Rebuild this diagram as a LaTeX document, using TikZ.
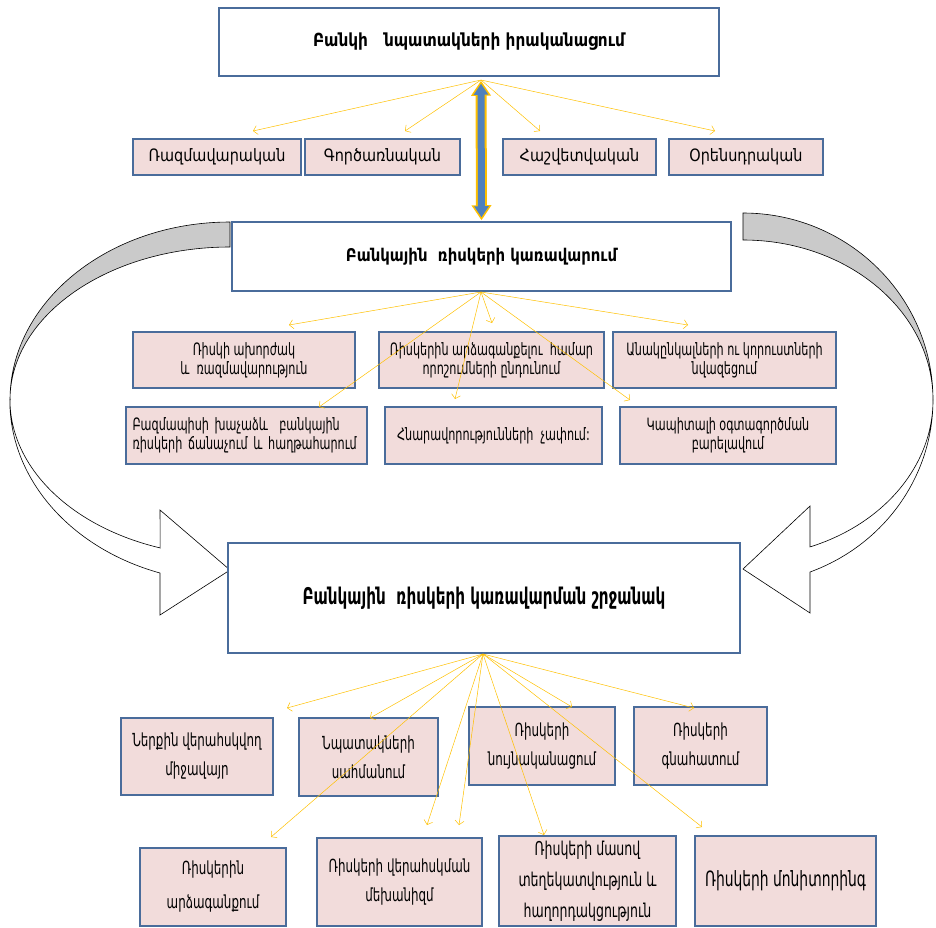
\documentclass[tikz,border=0pt]{standalone}
\usepackage{fontspec}
\setmainfont{DejaVu Sans}[FakeStretch=0.85]
\newfontfamily\tallfont{DejaVu Sans}[FakeStretch=0.66]
\usetikzlibrary{arrows.meta}

\definecolor{boxblue}{HTML}{4A6C9B}
\definecolor{boxpink}{HTML}{F2DCDB}
\definecolor{fanyellow}{HTML}{FFC000}
\definecolor{arrowblue}{HTML}{4F81BD}
\definecolor{loopgray}{HTML}{CACACA}

\tikzset{
  mainbox/.style={draw=boxblue, line width=1.5pt, fill=white, inner sep=2pt, align=center},
  pinkbox/.style={draw=boxblue, line width=1.6pt, fill=boxpink, inner sep=2pt, align=center},
  lowbox/.style={pinkbox, line width=2.6pt},
  fan/.style={draw=fanyellow, line width=0.5pt, -{Straight Barb[length=4pt,width=9pt]}},
  loop/.style={draw=black, line width=0.6pt},
}

\begin{document}
\begin{tikzpicture}[x=1pt,y=-1pt]
\useasboundingbox (0,0) rectangle (936,927);

% Draw the loop arrows
\filldraw[loop, fill=loopgray] (230,222) arc[start angle=270, end angle=180, x radius=220, y radius=178]
  arc[start angle=180, end angle=270, x radius=220, y radius=153] -- cycle;
\filldraw[loop, fill=white] (10,400) arc[start angle=180, end angle=108.5, x radius=220, y radius=156]
  -- (160,510) -- (230,570) -- (160,615) -- (160,573)
  arc[start angle=108.5, end angle=180, x radius=220, y radius=182] -- cycle;
\filldraw[loop, fill=loopgray] (743,213) arc[start angle=270, end angle=360, x radius=190, y radius=187]
  arc[start angle=0, end angle=-90, x radius=190, y radius=160] -- cycle;
\filldraw[loop, fill=white] (933,400) arc[start angle=0, end angle=69.35, x radius=190, y radius=157]
  -- (810,506) -- (743,569) -- (810,613) -- (810,572)
  arc[start angle=69.35, end angle=0, x radius=190, y radius=184] -- cycle;

% Define the main boxes
\node[mainbox, minimum width=500pt, minimum height=68pt, font=\bfseries\fontsize{18}{22}\selectfont] (goals) at (469,42) {Բանկի\ \ \ նպատակների իրականացում};
\node[mainbox, minimum width=499pt, minimum height=69pt, font=\bfseries\fontsize{17.5}{21}\selectfont] (manage) at (481.5,256.5) {Բանկային\ \ ռիսկերի կառավարում};
\node[mainbox, minimum width=512pt, minimum height=110pt, font=\tallfont\bfseries\fontsize{23}{28}\selectfont] (frame) at (484,598) {Բանկային\ \ ռիսկերի կառավարման շրջանակ};

% Goal types
\begin{scope}[every node/.style={pinkbox, minimum height=36pt, font=\fontsize{17}{20}\selectfont}]
\node[minimum width=168pt] (strat) at (217,157) {Ռազմավարական};
\node[minimum width=155pt] (oper) at (382.5,157) {Գործառնական};
\node[minimum width=153pt] (report) at (579.5,157) {Հաշվետվական};
\node[minimum width=154pt] (legal) at (746,157) {Օրենսդրական};
\end{scope}

% Risk management tasks
\begin{scope}[every node/.style={pinkbox, font=\tallfont\fontsize{17}{19}\selectfont}]
\node[minimum width=222pt, minimum height=56pt] (appetite) at (244,360) {Ռիսկի ախորժակ\\ և\ \ ռազմավարություն};
\node[minimum width=225pt, minimum height=56pt] (decide) at (491.5,360) {Ռիսկերին արձագանքելու\ \ համար\\ որոշումների ընդունում};
\node[minimum width=223pt, minimum height=56pt] (losses) at (724.5,360) {Անակընկալների ու կորուստների\\ նվազեցում};
\node[minimum width=241pt, minimum height=57pt, align=left, text width=228pt] (cross) at (246.5,435.5) {Բազմապիսի խաչաձև\ \ բանկային\\ ռիսկերի ճանաչում և հաղթահարում};
\node[minimum width=217pt, minimum height=57pt] (chances) at (493.5,435.5) {Հնարավորությունների\ \ չափում:};
\node[minimum width=216pt, minimum height=57pt] (capital) at (728,435.5) {Կապիտալի օգտագործման\\ բարելավում};
\end{scope}

% Framework components
\begin{scope}[every node/.style={lowbox, font=\tallfont\fontsize{18}{29}\selectfont}]
\node[minimum width=152pt, minimum height=77pt] (env) at (197,756.5) {Ներքին վերահսկվող\\ միջավայր};
\node[minimum width=139pt, minimum height=78pt] (aims) at (368.5,757) {Նպատակների\\ սահմանում};
\node[minimum width=146pt, minimum height=78pt] (ident) at (542,746) {Ռիսկերի\\ նույնականացում};
\node[minimum width=133pt, minimum height=78pt] (assess) at (700.5,746) {Ռիսկերի\\ գնահատում};
\node[minimum width=146pt, minimum height=78pt, font=\tallfont\fontsize{18}{34}\selectfont] (respond) at (213,887) {Ռիսկերին\\ արձագանքում};
\node[minimum width=165pt, minimum height=88pt] (control) at (399.5,882) {Ռիսկերի վերահսկման\\ մեխանիզմ};
\node[minimum width=177pt, minimum height=90pt, font=\tallfont\fontsize{19}{31}\selectfont] (inform) at (587.5,881) {Ռիսկերի մասով\\ տեղեկատվություն և\\ հաղորդակցություն};
\node[minimum width=181pt, minimum height=90pt, font=\tallfont\fontsize{21}{25}\selectfont] (monitor) at (785.5,881) {Ռիսկերի մոնիտորինգ};
\end{scope}

% Draw the fans
\coordinate (gfan) at (481,80);
\foreach \x/\y in {253/131, 405/131, 540/131, 715/131}
  \draw[fan] (gfan) -- (\x,\y);
\coordinate (mfan) at (481,292);
\foreach \x/\y in {289/325, 492/323, 688/325, 319/407, 455/399, 630/400}
  \draw[fan] (mfan) -- (\x,\y);
\coordinate (ffan) at (483,654);
\foreach \x/\y in {287/708, 370/718, 572/707, 694/708, 271/837, 427/825, 459/825, 544/835, 702/827}
  \draw[fan] (ffan) -- (\x,\y);

% Draw the double arrow
\draw[{Triangle[width=19pt,length=15pt]}-{Triangle[width=19pt,length=15pt]}, draw=fanyellow, fill=fanyellow, line width=11pt] ([xshift=12pt,yshift=-4pt]goals.south) -- ([yshift=1pt]manage.north);
\draw[{Triangle[width=14pt,length=11pt]}-{Triangle[width=14pt,length=11pt]}, draw=arrowblue, fill=arrowblue, line width=7pt] ([xshift=12pt,yshift=-7pt]goals.south) -- ([yshift=4pt]manage.north);

\end{tikzpicture}
\end{document}
